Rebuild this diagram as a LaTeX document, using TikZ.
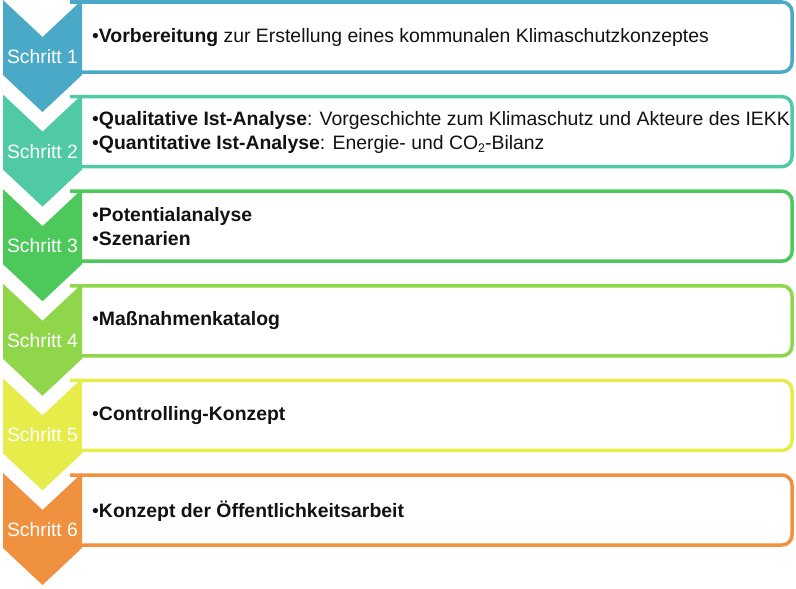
\documentclass[tikz,border=0pt]{standalone}
\usepackage{fontspec}
\setmainfont{Liberation Sans}
\definecolor{cA}{HTML}{4BA9C8}
\definecolor{cB}{HTML}{50C9A5}
\definecolor{cC}{HTML}{4DC95C}
\definecolor{cD}{HTML}{8FD64A}
\definecolor{cE}{HTML}{E6EC4A}
\definecolor{cF}{HTML}{F0913F}
\tikzset{
  steplabel/.style={text=white,font=\fontsize{19.3}{22}\selectfont,inner sep=0pt,anchor=base},
  bodytext/.style={text=black!93,font=\fontsize{19.4}{24}\selectfont,inner sep=0pt,anchor=west,align=left},
  boxline/.style={line width=3.5pt,rounded corners=10pt,fill=white}
}
\newcommand{\chevstep}[3]{%
  % #1 = y0, #2 = colour, #3 = number
  \draw[boxline,draw=#2] (70,#1+2) -- (792,#1+2) -- (792,#1+72) -- (70,#1+72);
  \fill[#2] (3,#1) -- (42.5,#1+37) -- (82,#1) -- (82,#1+75) -- (42.5,#1+112) -- (3,#1+75) -- cycle;
  \node[steplabel] (s#3) at (42.5,#1+63.5) {Schritt #3};
}
\begin{document}
\begin{tikzpicture}[x=1pt,y=-1pt]
\useasboundingbox (0,0) rectangle (796,589);
\chevstep{0}{cA}{1}
\chevstep{94.6}{cB}{2}
\chevstep{189.2}{cC}{3}
\chevstep{283.8}{cD}{4}
\chevstep{378.4}{cE}{5}
\chevstep{473}{cF}{6}
\node[bodytext] (t1) at (92,38) {•\textbf{Vorbereitung} zur Erstellung eines kommunalen Klimaschutzkonzeptes};
\node[bodytext] (t2) at (92,132) {•\textbf{Qualitative Ist-Analyse}: Vorgeschichte zum Klimaschutz und Akteure des IEKK\\•\textbf{Quantitative Ist-Analyse}: Energie- und CO\raisebox{-0.35ex}{\fontsize{12.5}{12.5}\selectfont 2}-Bilanz};
\node[bodytext] (t3) at (92,227) {•\textbf{Potentialanalyse}\\•\textbf{Szenarien}};
\node[bodytext] (t4) at (92,321) {•\textbf{Maßnahmenkatalog}};
\node[bodytext] (t5) at (92,416) {•\textbf{Controlling-Konzept}};
\node[bodytext] (t6) at (92,511) {•\textbf{Konzept der Öffentlichkeitsarbeit}};
\end{tikzpicture}
\end{document}
